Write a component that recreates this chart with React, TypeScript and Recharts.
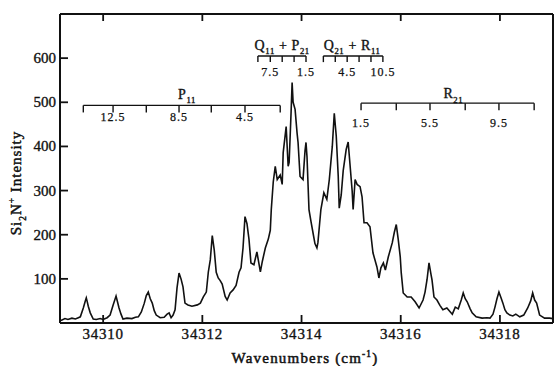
import React from 'react';
import { ComposedChart, Line, XAxis, YAxis, ReferenceLine, ReferenceDot } from 'recharts';

// Spectrum: wavenumber (cm^-1) and Si2N+ intensity
const wavenumbers = [
  34309.13, 34309.17, 34309.23, 34309.29, 34309.37, 34309.44, 34309.50, 34309.54, 34309.60, 34309.64,
  34309.66, 34309.68, 34309.70, 34309.74, 34309.80, 34309.86, 34309.94, 34310.00, 34310.08, 34310.14,
  34310.20, 34310.26, 34310.28, 34310.32, 34310.36, 34310.40, 34310.48, 34310.58, 34310.65, 34310.71,
  34310.77, 34310.83, 34310.87, 34310.91, 34310.95, 34310.99, 34311.03, 34311.07, 34311.15, 34311.23,
  34311.29, 34311.33, 34311.37, 34311.41, 34311.45, 34311.49, 34311.53, 34311.57, 34311.61, 34311.65,
  34311.71, 34311.79, 34311.90, 34311.96, 34312.02, 34312.08, 34312.12, 34312.16, 34312.20, 34312.24,
  34312.28, 34312.32, 34312.36, 34312.40, 34312.46, 34312.50, 34312.56, 34312.62, 34312.68, 34312.74,
  34312.78, 34312.82, 34312.86, 34312.90, 34312.94, 34312.98, 34313.04, 34313.10, 34313.17, 34313.21,
  34313.27, 34313.33, 34313.37, 34313.39, 34313.43, 34313.47, 34313.51, 34313.57, 34313.61, 34313.63,
  34313.69, 34313.73, 34313.75, 34313.79, 34313.81, 34313.83, 34313.87, 34313.91, 34313.93, 34313.97,
  34314.03, 34314.07, 34314.09, 34314.11, 34314.15, 34314.19, 34314.23, 34314.27, 34314.31, 34314.33,
  34314.39, 34314.45, 34314.51, 34314.56, 34314.62, 34314.66, 34314.70, 34314.74, 34314.76, 34314.80,
  34314.84, 34314.90, 34314.94, 34314.98, 34315.02, 34315.04, 34315.08, 34315.12, 34315.18, 34315.22,
  34315.26, 34315.32, 34315.38, 34315.44, 34315.52, 34315.56, 34315.60, 34315.65, 34315.69, 34315.75,
  34315.83, 34315.87, 34315.91, 34315.95, 34315.99, 34316.01, 34316.05, 34316.13, 34316.21, 34316.29,
  34316.37, 34316.45, 34316.49, 34316.53, 34316.57, 34316.61, 34316.63, 34316.67, 34316.73, 34316.79,
  34316.85, 34316.93, 34317.00, 34317.04, 34317.10, 34317.16, 34317.22, 34317.26, 34317.30, 34317.34,
  34317.40, 34317.44, 34317.52, 34317.64, 34317.74, 34317.80, 34317.86, 34317.90, 34317.94, 34317.98,
  34318.02, 34318.06, 34318.10, 34318.14, 34318.20, 34318.26, 34318.32, 34318.40, 34318.48, 34318.56,
  34318.62, 34318.66, 34318.70, 34318.74, 34318.80, 34318.90, 34319.00, 34319.07,
];
const intensity = [
  5, 7, 10, 8, 11, 9, 12, 14, 34, 50,
  57, 48, 38, 23, 9, 8, 10, 8, 12, 18,
  40, 61, 52, 34, 20, 9, 11, 10, 13, 14,
  25, 45, 62, 70, 55, 45, 28, 18, 12, 13,
  20, 23, 12, 18, 30, 80, 113, 100, 82, 45,
  41, 38, 41, 45, 59, 70, 115, 143, 198, 165,
  115, 102, 96, 88, 60, 52, 68, 75, 85, 115,
  125, 170, 241, 225, 190, 136, 132, 161, 116, 140,
  170, 190, 210, 257, 320, 355, 325, 335, 314, 386,
  445, 355, 364, 480, 545, 500, 484, 430, 409, 332,
  325, 390, 409, 377, 257, 230, 205, 180, 170, 182,
  257, 295, 280, 325, 400, 475, 423, 332, 260, 290,
  345, 393, 410, 355, 300, 257, 325, 314, 309, 286,
  227, 227, 218, 159, 127, 102, 125, 136, 120, 150,
  182, 205, 223, 189, 150, 114, 68, 59, 59, 48,
  34, 52, 70, 98, 136, 110, 98, 59, 52, 40,
  30, 34, 25, 20, 36, 32, 52, 68, 55, 48,
  32, 23, 14, 11, 12, 11, 20, 36, 55, 70,
  58, 45, 30, 23, 18, 16, 20, 14, 18, 34,
  50, 68, 52, 45, 18, 11, 11, 10,
];

const xTicks = [34310, 34312, 34314, 34316, 34318];
const yTicks = [100, 200, 300, 400, 500, 600];
const rightTicks = [110, 210, 310, 410, 510, 610];

// Assignment brackets (rotational line positions, cm^-1)
type Part = [string, 'n' | 'b' | 'p'];
const bracketTicks: number[][] = [
  [34309.60, 34310.20, 34310.87, 34311.53, 34312.18, 34312.86, 34313.57],
  [34315.20, 34315.91, 34316.59, 34317.30, 34317.98, 34318.69],
  [34313.12, 34313.37, 34313.61, 34313.85, 34314.09],
  [34314.44, 34314.68, 34314.92, 34315.16, 34315.40, 34315.64],
];
const bracketLevels = [493, 498, 605, 605];
const bracketDepth = [16, 16, 14, 14];
const bracketTitles: Part[][] = [
  [['P', 'n'], ['11', 'b']],
  [['R', 'n'], ['21', 'b']],
  [['Q', 'n'], ['11', 'b'], [' + P', 'n'], ['21', 'b']],
  [['Q', 'n'], ['21', 'b'], [' + R', 'n'], ['11', 'b']],
];
const bracketTitleX = [34311.69, 34317.06, 34313.61, 34315.02];
const bracketTitleY = [507, 509, 618, 618];
const bracketLabels = [['12.5', '8.5', '4.5'], ['1.5', '5.5', '9.5'], ['7.5', '1.5'], ['4.5', '10.5']];
const bracketLabelIdx = [[1, 3, 5], [0, 2, 4], [1, 4], [2, 5]];
const bracketLabelY = [457, 445, 559, 559];

const data = wavenumbers.map((w, i) => ({ w, v: intensity[i] }));

const FONT = "'Liberation Serif', 'Times New Roman', serif";
const INK = '#111';

// plot frame (layout)
const PL = 60, PR = 553, PT = 14, PB = 323;

function RichText({ x, y, parts, size, ls = 0, anchor = 'middle', transform, heavy = 0.35 }: any) {
  let shift = 0;
  return (
    <text x={x} y={y} textAnchor={anchor} fontFamily={FONT} fontSize={size} fill={INK} stroke={INK}
      strokeWidth={heavy} letterSpacing={ls} transform={transform}>
      {parts.map((p: Part, i: number) => {
        const target = p[1] === 'b' ? size * 0.3 : p[1] === 'p' ? -size * 0.4 : 0;
        const dy = target - shift;
        shift = target;
        return (
          <tspan key={i} dy={dy} fontSize={p[1] === 'n' ? size : size * 0.62}>
            {p[0]}
          </tspan>
        );
      })}
    </text>
  );
}

const axisStyle = { stroke: INK, strokeWidth: 2 };

const BottomTick = (p: any) => (
  <g>
    <line x1={p.x} x2={p.x} y1={PB} y2={PB - 8} stroke={INK} strokeWidth={1.8} />
    <RichText x={p.x} y={339} parts={[[String(p.payload.value), 'n']]} size={15} ls={0.8} />
  </g>
);
const TopTick = (p: any) => (
  <line x1={p.x} x2={p.x} y1={PT} y2={PT + 7} stroke={INK} strokeWidth={1.8} />
);
const LeftTick = (p: any) => (
  <g>
    <line x1={PL} x2={PL + 8} y1={p.y} y2={p.y} stroke={INK} strokeWidth={1.8} />
    <RichText x={56} y={p.y + 5} anchor="end" parts={[[String(p.payload.value), 'n']]} size={15} />
  </g>
);
const RightTick = (p: any) => (
  <line x1={PR} x2={PR - 8} y1={p.y} y2={p.y} stroke={INK} strokeWidth={1.8} />
);

export default function App() {
  const refs: React.ReactNode[] = [];
  bracketTicks.forEach((ticks, b) => {
    const lv = bracketLevels[b];
    refs.push(
      <ReferenceLine key={`h${b}`} segment={[{ x: ticks[0], y: lv }, { x: ticks[ticks.length - 1], y: lv }]} stroke={INK} strokeWidth={1.4} ifOverflow="visible" />
    );
    ticks.forEach((t, j) => {
      refs.push(
        <ReferenceLine key={`t${b}-${j}`} segment={[{ x: t, y: lv }, { x: t, y: lv - bracketDepth[b] }]} stroke={INK} strokeWidth={1.4} ifOverflow="visible" />
      );
    });
    refs.push(
      <ReferenceDot key={`ti${b}`} x={bracketTitleX[b]} y={bracketTitleY[b]} r={0} ifOverflow="visible"
        shape={(p: any) => <RichText x={p.cx} y={p.cy} parts={bracketTitles[b]} size={14} ls={0.6} />} />
    );
    bracketLabels[b].forEach((lab, j) => {
      refs.push(
        <ReferenceDot key={`l${b}-${j}`} x={ticks[bracketLabelIdx[b][j]]} y={bracketLabelY[b]} r={0} ifOverflow="visible"
          shape={(p: any) => <RichText x={p.cx} y={p.cy} parts={[[lab, 'n']]} size={12} ls={1} heavy={0.25} />} />
      );
    });
  });

  return (
    <div style={{ position: 'absolute', left: 0, top: 0, background: '#fff' }}>
      <ComposedChart width={554} height={366} data={data} margin={{ top: 13, right: 0, bottom: 0, left: 0 }}>
        <XAxis dataKey="w" type="number" domain={[34309.13, 34319.07]} ticks={xTicks} interval={0} allowDataOverflow
          height={43} tickLine={false} axisLine={axisStyle} tick={<BottomTick />}
          label={{
            content: () => (
              <RichText x={305} y={363} parts={[['Wavenumbers (cm', 'n'], ['-1', 'p'], [')', 'n']]} size={15} ls={1.2} heavy={0.5} />
            ),
          }} />
        <XAxis xAxisId="top" orientation="top" dataKey="w" type="number" domain={[34309.13, 34319.07]} ticks={xTicks}
          interval={0} allowDataOverflow height={1} tickLine={false} tick={<TopTick />} axisLine={axisStyle} />
        <YAxis domain={[0, 700]} ticks={yTicks} interval={0} width={60} tickLine={false}
          axisLine={axisStyle} tick={<LeftTick />}
          label={{
            content: () => (
              <RichText x={21} y={183} transform="rotate(-90 21 183)"
                parts={[['Si', 'n'], ['2', 'b'], ['N', 'n'], ['+', 'p'], [' Intensity', 'n']]} size={15} ls={1} heavy={0.45} />
            ),
          }} />
        <YAxis yAxisId="right" orientation="right" domain={[0, 700]} ticks={rightTicks} interval={0} width={1}
          tickLine={false} tick={<RightTick />} axisLine={axisStyle} />
        <Line type="linear" dataKey="v" stroke={INK} strokeWidth={1.6} dot={false} isAnimationActive={false} />
        {refs}
      </ComposedChart>
    </div>
  );
}
